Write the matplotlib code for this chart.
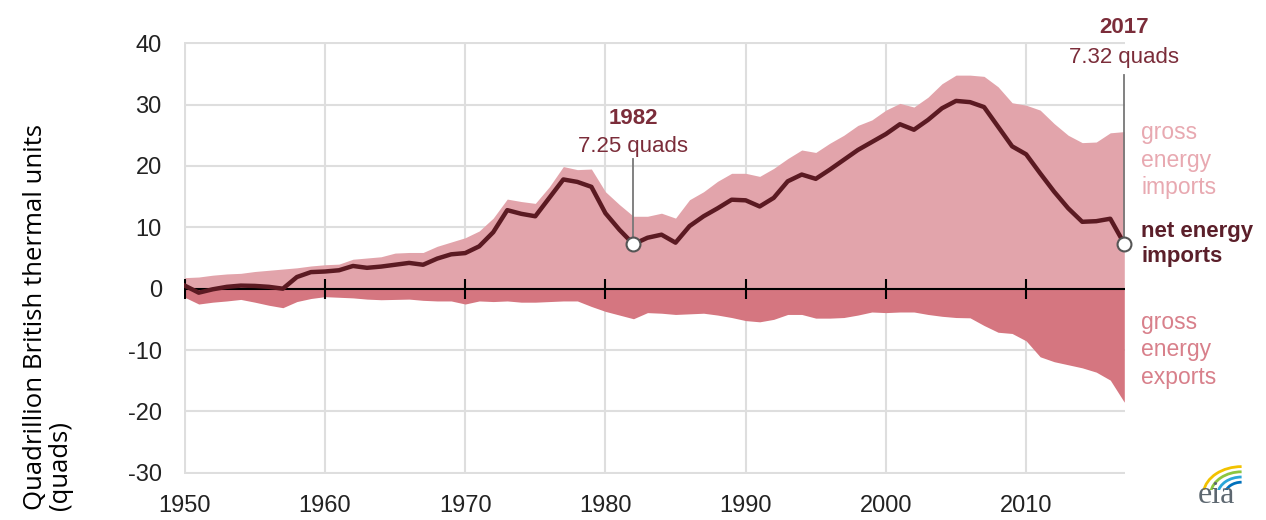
import matplotlib
matplotlib.use("Agg")
import matplotlib.pyplot as plt
from matplotlib.patches import Arc

# datos (quads)
anios = list(range(1950, 2018))
importaciones = [1.8, 1.9, 2.2, 2.4, 2.5, 2.8, 3.0, 3.2, 3.4, 3.7,
                 3.9, 4.0, 4.8, 5.0, 5.2, 5.8, 5.9, 5.9, 6.9, 7.6,
                 8.3, 9.4, 11.5, 14.6, 14.2, 13.9, 16.6, 19.9, 19.4, 19.5,
                 15.8, 13.7, 11.8, 11.8, 12.3, 11.5, 14.5, 15.8, 17.5, 18.8,
                 18.8, 18.3, 19.6, 21.2, 22.6, 22.2, 23.7, 25.0, 26.6, 27.5,
                 29.1, 30.2, 29.6, 31.2, 33.4, 34.8, 34.8, 34.6, 32.9, 30.3,
                 29.9, 29.1, 26.9, 25.0, 23.8, 23.9, 25.4, 25.6]
exportaciones = [-1.4, -2.5, -2.2, -2.0, -1.75, -2.2, -2.7, -3.1, -2.1, -1.6,
                 -1.3, -1.4, -1.5, -1.7, -1.8, -1.75, -1.7, -1.9, -2.0, -2.0,
                 -2.5, -2.0, -2.1, -2.0, -2.2, -2.2, -2.1, -2.0, -2.0, -2.9,
                 -3.7, -4.3, -4.9, -3.9, -4.0, -4.2, -4.1, -4.0, -4.3, -4.7,
                 -5.2, -5.4, -5.0, -4.2, -4.2, -4.8, -4.8, -4.7, -4.3, -3.8,
                 -3.9, -3.8, -3.8, -4.2, -4.5, -4.7, -4.75, -6.0, -7.1, -7.3,
                 -8.5, -11.1, -11.9, -12.4, -12.9, -13.6, -14.9, -18.5]
netas = [0.5, -0.65, -0.1, 0.3, 0.5, 0.45, 0.3, 0.0, 1.9, 2.7,
         2.8, 3.0, 3.7, 3.4, 3.6, 3.9, 4.2, 3.9, 4.9, 5.6,
         5.8, 6.9, 9.2, 12.8, 12.2, 11.8, 14.8, 17.8, 17.4, 16.6,
         12.3, 9.6, 7.25, 8.3, 8.8, 7.5, 10.2, 11.8, 13.1, 14.5,
         14.4, 13.4, 14.8, 17.5, 18.6, 17.9, 19.4, 21.0, 22.6, 23.9,
         25.2, 26.8, 25.9, 27.5, 29.4, 30.6, 30.4, 29.6, 26.4, 23.2,
         21.9, 18.8, 15.8, 13.1, 10.9, 11.0, 11.4, 7.32]

decadas = [1950, 1960, 1970, 1980, 1990, 2000, 2010]
etiquetas_y = [-30, -20, -10, 0, 10, 20, 30, 40]
destacados = [(1982, 7.25), (2017, 7.32)]

c_imp = "#e2a4ab"
c_exp = "#d57680"
c_net = "#5b1a22"
c_anot = "#7b2d3a"

plt.rcParams['font.family'] = ['Liberation Sans', 'DejaVu Sans']
plt.rcParams['axes.unicode_minus'] = False

fig = plt.figure(figsize=(12.66, 5.2), dpi=100)
ax = fig.add_axes([184 / 1266, 1 - 474 / 520, (1125 - 184) / 1266, (474 - 42) / 520])

ax.fill_between(anios, 0, importaciones, color=c_imp, lw=0, zorder=2)
ax.fill_between(anios, 0, exportaciones, color=c_exp, lw=0, zorder=2)
ax.plot(anios, netas, color=c_net, lw=3.2, solid_joinstyle='round', zorder=4)

# linea del cero con marcas de decada
ax.plot([anios[0], anios[-1]], [0, 0], color='black', lw=1.5, zorder=3)
ax.plot(decadas, [0] * len(decadas), ls='none', marker='|', ms=14, mew=1.5,
        color='black', zorder=3)

for d in decadas:
    ax.axvline(d, color='#dedede', lw=1.5, zorder=1)
for v in etiquetas_y:
    ax.plot([anios[0], anios[-1] + 0.15], [v, v], color='#dedede', lw=1.5, zorder=1)

ax.set_xlim(anios[0] - 0.05, anios[-1] + 0.05)
ax.set_ylim(-30.2, 40.2)
ax.set_xticks(decadas)
ax.set_yticks(etiquetas_y)
ax.tick_params(length=0, labelsize=17, colors='#222222')
ax.tick_params(axis='y', pad=16)
ax.tick_params(axis='x', pad=15)
for s in ax.spines.values():
    s.set_visible(False)

# anotaciones
for (anio, valor), y_lbl in zip(destacados, [(26.9, 22.3, 21.1), (41.6, 36.8, 34.9)]):
    ax.plot([anio, anio], [valor, y_lbl[2]], color='#777777', lw=1.3, zorder=5,
            clip_on=False)
    ax.plot(anio, valor, 'o', ms=10, mfc='white', mec='#555555', mew=1.5,
            zorder=6, clip_on=False)
    ax.text(anio, y_lbl[0], str(anio), ha='center', va='baseline', fontsize=16,
            fontweight='bold', color=c_anot, clip_on=False)
    ax.text(anio, y_lbl[1], f"{valor:.2f} quads", ha='center', va='baseline',
            fontsize=16, color=c_anot, clip_on=False)

# etiquetas de series a la derecha
ax.text(2018.2, 27.3, "gross\nenergy\nimports", ha='left', va='top', fontsize=16.5,
        color='#e8a9b1', linespacing=1.25, clip_on=False)
ax.text(2018.2, 11.0, "net energy\nimports", ha='left', va='top', fontsize=16,
        fontweight='bold', color='#5b1f2a', linespacing=1.25, clip_on=False)
ax.text(2018.2, -3.6, "gross\nenergy\nexports", ha='left', va='top', fontsize=16.5,
        color='#d8808b', linespacing=1.25, clip_on=False)

fig.text(0.018, 0.02, "Quadrillion British thermal units\n(quads)", rotation=90,
         ha='left', va='bottom', multialignment='left', fontsize=18.5,
         family=['Open Sans', 'DejaVu Sans'], color='black', linespacing=1.0)

# logo eia
fig.text(1216 / 1266, 1 - 503 / 520, "eia", ha='center', va='baseline', fontsize=23,
         family=['Liberation Serif', 'DejaVu Serif'], color='#5d6770')
logo = fig.add_axes([1196 / 1266, 1 - 490 / 520, 48 / 1266, 26 / 520])
logo.set_xlim(0, 1)
logo.set_ylim(0, 1)
logo.axis('off')
for i, col in enumerate(['#f2c200', '#8cc63f', '#2aa6d9', '#0071bc']):
    logo.add_patch(Arc((0.95, -0.2), 1.6 - i * 0.3, 2.2 - i * 0.4, theta1=90, theta2=170,
                       color=col, lw=2))

fig.savefig("out.png", dpi=100)
